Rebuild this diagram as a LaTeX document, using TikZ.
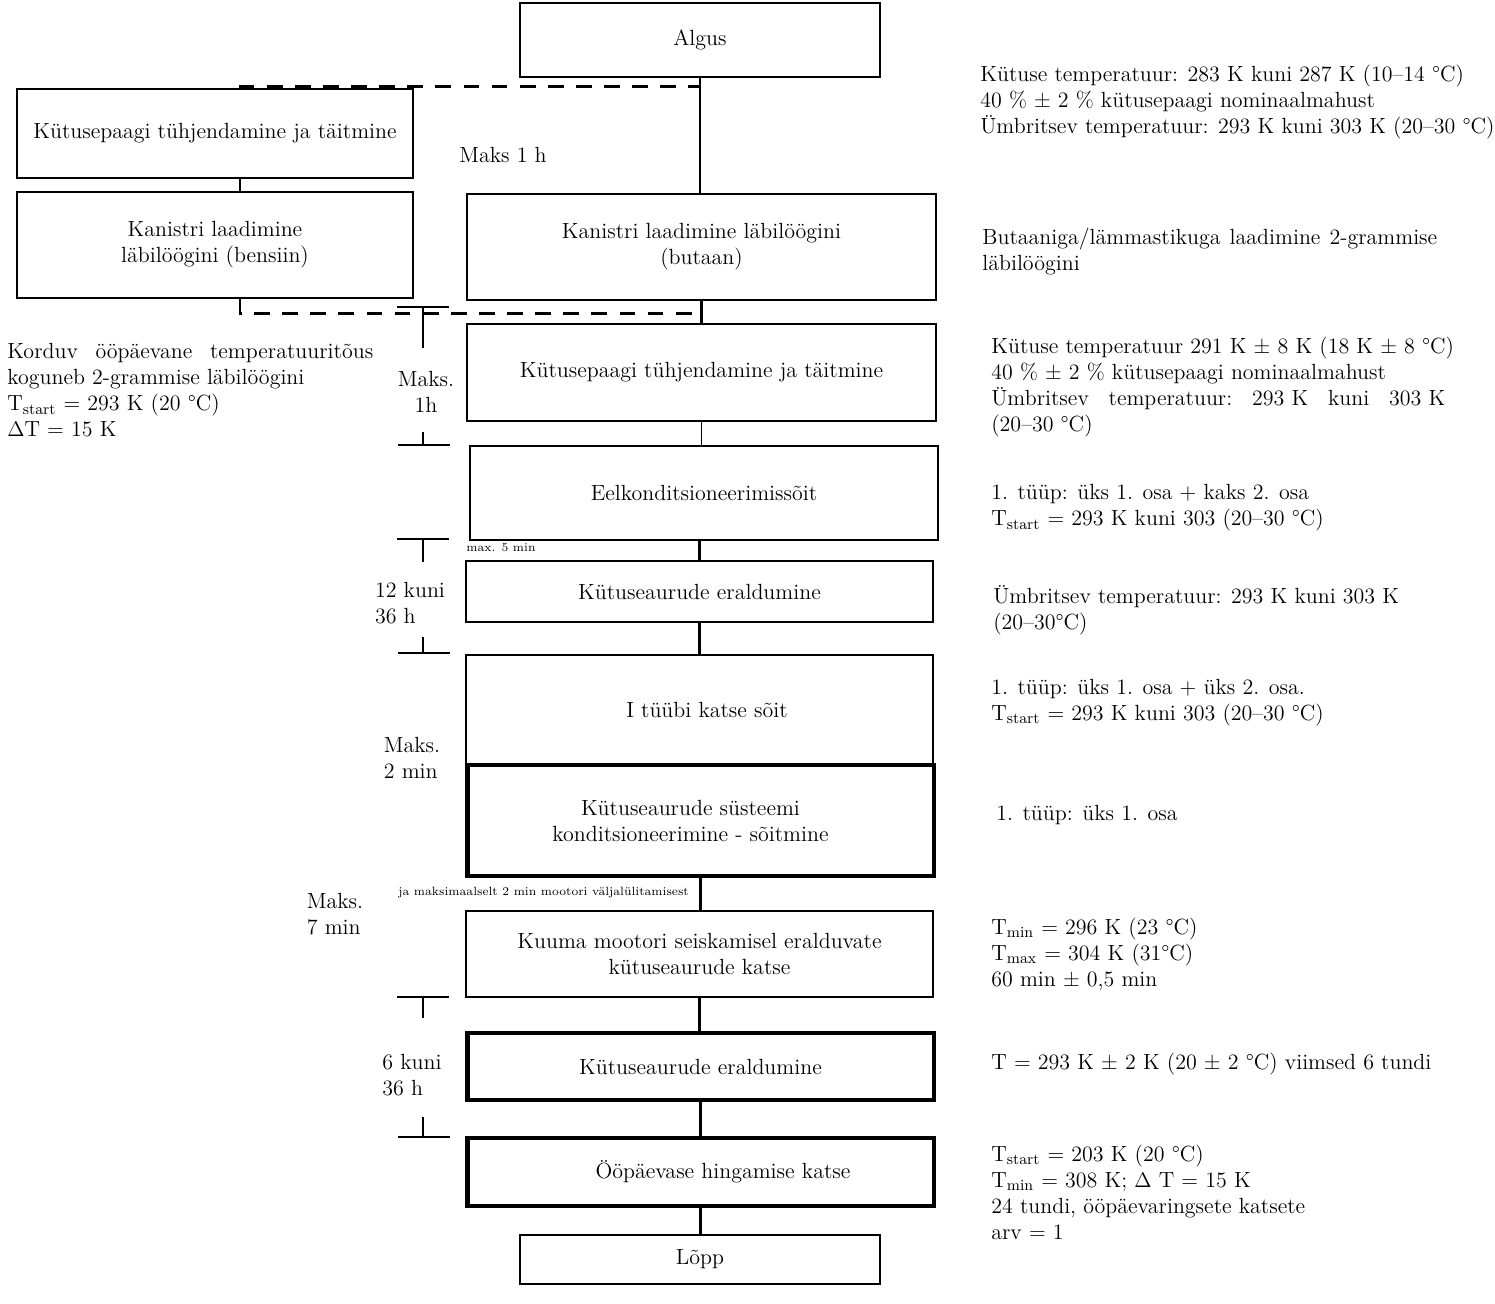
\documentclass[tikz,border=0pt]{standalone}
\usepackage{tikz}
\usetikzlibrary{positioning,calc}

\begin{document}
\begin{tikzpicture}[x=0.02cm,y=-0.02cm,
    every node/.style={font=\fontsize{12.5}{14.8}\selectfont},
    box/.style={draw,line width=1.5pt,align=center,inner sep=2pt},
    heavy/.style={box,line width=2.8pt},
    link/.style={line width=1.4pt},
    dashlink/.style={line width=1.4pt,dash pattern=on 9pt off 7pt},
    note/.style={anchor=west,align=left,inner sep=0pt},
    tiny/.style={font=\fontsize{6.8}{8}\selectfont,inner sep=0pt,anchor=west},
    bar/.style={line width=1.3pt}]
    \useasboundingbox (0,0) rectangle (1495,1304);

    % main column
    \node[box,minimum width=7.2cm,minimum height=1.48cm] (algus) at (700,40) {Algus};
    \node[box,minimum width=9.38cm,minimum height=2.12cm] (kan2) at (701.5,247) {Kanistri laadimine läbilöögini\\(butaan)};
    \node[box,minimum width=9.38cm,minimum height=1.94cm] (tank2) at (701.5,372.5) {Kütusepaagi tühjendamine ja täitmine};
    \node[box,minimum width=9.36cm,minimum height=1.88cm] (eel) at (704,493) {Eelkonditsioneerimissõit};
    \node[box,minimum width=9.34cm,minimum height=1.22cm] (aur1) at (699.5,591.5) {Kütuseaurude eraldumine};
    \node[box,minimum width=9.34cm,minimum height=2.2cm] (katse) at (699.5,710) {\hspace*{0.3cm}I tüübi katse sõit};
    \node[heavy,minimum width=9.34cm,minimum height=2.22cm] (kond) at (700.5,820.5) {Kütuseaurude süsteemi\hspace*{0.4cm}\\konditsioneerimine - sõitmine\hspace*{0.4cm}};
    \node[box,minimum width=9.34cm,minimum height=1.72cm] (kuum) at (699.5,954) {Kuuma mootori seiskamisel eralduvate\\kütuseaurude katse};
    \node[heavy,minimum width=9.34cm,minimum height=1.34cm] (aur2) at (700.5,1066.5) {Kütuseaurude eraldumine};
    \node[heavy,minimum width=9.34cm,minimum height=1.36cm] (hing) at (700.5,1172) {\hspace*{0.9cm}Ööpäevase hingamise katse};
    \node[box,minimum width=7.2cm,minimum height=0.98cm] (lopp) at (700,1259.5) {Lõpp};

    % left column (bensiin)
    \node[box,minimum width=7.92cm,minimum height=1.78cm] (tank1) at (215,133.5) {Kütusepaagi tühjendamine ja täitmine};
    \node[box,minimum width=7.92cm,minimum height=2.12cm] (kan1) at (215,245) {Kanistri laadimine\\läbilöögini (bensiin)};

    \draw[link] (algus.south) -- (algus.south |- kan2.north);
    \draw[link] (kan2.south) -- (kan2.south |- tank2.north);
    \draw[line width=0.7pt] (tank2.south) -- (tank2.south |- eel.north);
    \draw[link] (aur1.north |- eel.south) -- (aur1.north);
    \draw[link] (aur1.south) -- (aur1.south |- katse.north);
    \draw[link] (kond.south) -- (kond.south |- kuum.north);
    \draw[link] (kuum.south) -- (kuum.south |- aur2.north);
    \draw[link] (aur2.south) -- (aur2.south |- hing.north);
    \draw[link] (hing.south) -- (hing.south |- lopp.north);
    \draw[link] ([xshift=0.5cm]tank1.south) -- ([xshift=0.5cm]kan1.north);

    \coordinate (j1) at ($(algus.south)+(0,8)$);
    \coordinate (j2) at ($(kan2.south)+(0,12)$);
    \draw[dashlink] ([xshift=0.5cm]tank1.north) |- (j1);
    \draw[dashlink] ([xshift=0.5cm]kan1.south) |- (j2);

    % times
    \node (maks1) at (503,155) {Maks 1 h};
    \node[tiny] (max5) at (466,548) {max. 5 min};
    \node[tiny] (jamaks) at (398,893) {ja maksimaalselt 2 min mootori väljalülitamisest};
    \foreach \y/\e in {307/348,539/562,997/1018}
        \draw[bar] (397,\y) -- (449,\y) (423,\y) -- (423,\e);
    \foreach \s/\y in {432/445,637/653,1117/1137}
        \draw[bar] (423,\s) -- (423,\y) (398,\y) -- (450,\y);
    \node[align=center] (t1) at (426,392) {Maks.\\1h};
    \node[align=left] (t2) at (410,603) {12 kuni\\36 h};
    \node[align=left] (t3) at (412,758) {Maks.\\2 min};
    \node[align=left] (t4) at (335,914) {Maks.\\7 min};
    \node[align=left] (t5) at (412,1075) {6 kuni\\36 h};

    % notes
    \node[note] (n0) at (7,390.5) {\makebox[7.32cm]{Korduv\hfill ööpäevane\hfill temperatuuritõus}\\koguneb 2-grammise läbilöögini\\T\textsubscript{start} = 293 K (20 °C)\\$\Delta$T = 15 K};
    \node[note] (n1) at (980,102) {Kütuse temperatuur: 283 K kuni 287 K (10–14 °C)\\40 \% ± 2 \% kütusepaagi nominaalmahust\\Ümbritsev temperatuur: 293 K kuni 303 K (20–30 °C)};
    \node[note] (n2) at (982,252) {\makebox[9.1cm]{Butaaniga/lämmastikuga\hfill laadimine\hfill 2-grammise}\\läbilöögini};
    \node[note] (n3) at (991,387.5) {Kütuse temperatuur 291 K ± 8 K (18 K ± 8 °C)\\40 \% ± 2 \% kütusepaagi nominaalmahust\\\makebox[9.08cm]{Ümbritsev\hfill temperatuur:\hfill 293~K\hfill kuni\hfill 303~K}\\(20–30 °C)};
    \node[note] (n4) at (991,508) {1. tüüp: üks 1. osa + kaks 2. osa\\T\textsubscript{start} = 293 K kuni 303 (20–30 °C)};
    \node[note] (n5) at (993,610) {Ümbritsev temperatuur: 293 K kuni 303 K\\(20–30°C)};
    \node[note] (n6) at (991,702.5) {1. tüüp: üks 1. osa + üks 2. osa.\\T\textsubscript{start} = 293 K kuni 303 (20–30 °C)};
    \node[note] (n7) at (996,815) {1. tüüp: üks 1. osa};
    \node[note] (n8) at (991,954.5) {T\textsubscript{min} = 296 K (23 °C)\\T\textsubscript{max} = 304 K (31°C)\\60 min ± 0,5 min};
    \node[note] (n9) at (991,1064) {T = 293 K ± 2 K (20 ± 2 °C) viimsed 6 tundi};
    \node[note] (n10) at (991,1192.5) {T\textsubscript{start} = 203 K (20 °C)\\T\textsubscript{min} = 308 K; $\Delta$ T = 15 K\\24 tundi, ööpäevaringsete katsete\\arv = 1};
\end{tikzpicture}
\end{document}
